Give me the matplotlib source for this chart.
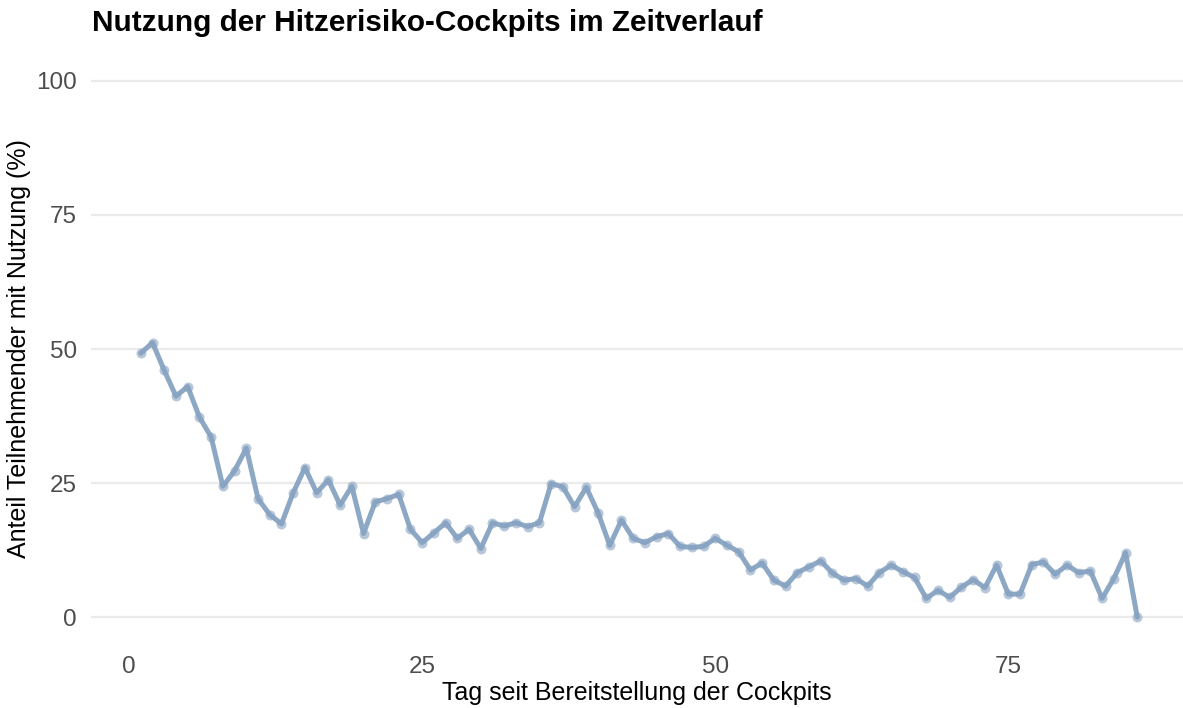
import numpy as np
import matplotlib
matplotlib.use('Agg')
import matplotlib.pyplot as plt

plt.rcParams['font.family'] = ['Liberation Sans', 'DejaVu Sans']

# days since cockpit release and share of participants using it (%)
days = list(range(1, 87))
usage = [49.2, 51.2, 46.0, 41.2, 43.0, 37.3, 33.6, 24.4, 27.3, 31.5,
         22.1, 19.1, 17.4, 23.2, 27.9, 23.2, 25.6, 20.9, 24.4, 15.6,
         21.5, 22.1, 22.9, 16.4, 13.9, 15.7, 17.6, 14.7, 16.4, 12.8,
         17.6, 17.0, 17.6, 16.9, 17.6, 24.9, 24.3, 20.6, 24.2, 19.5,
         13.4, 18.1, 14.7, 13.9, 15.0, 15.6, 13.2, 13.0, 13.2, 14.7,
         13.4, 12.2, 8.8, 10.1, 6.9, 5.8, 8.3, 9.4, 10.5, 8.2,
         6.9, 7.2, 5.8, 8.3, 9.7, 8.5, 7.4, 3.5, 5.0, 3.7,
         5.6, 7.0, 5.5, 9.7, 4.3, 4.3, 9.8, 10.3, 8.0, 9.7,
         8.3, 8.6, 3.5, 7.2, 12.0, 0.0]
yticks = [0, 25, 50, 75, 100]
xticks = [0, 25, 50, 75]

fig = plt.figure(figsize=(11.83, 7.08), dpi=100)
ax = fig.add_axes([0.0769, 0.0904, 0.9231, 0.8333])

color = '#87A3C1'
ax.scatter(days, usage, s=52, color=color, alpha=0.6, linewidths=0, zorder=3)
ax.plot(days, usage, color=color, linewidth=3.6, alpha=0.95, zorder=4,
        solid_capstyle='round', solid_joinstyle='round')

ax.set_xlim(-3.25, 89.9)
ax.set_ylim(-5, 105)
ax.set_xticks(xticks)
ax.set_yticks(yticks)
ax.tick_params(length=0, labelsize=17.5, labelcolor='#4D4D4D', pad=9)
ax.tick_params(axis='y', pad=10)

#only horizontal grid
ax.grid(axis='y', color='#EBEBEB', linewidth=1.6)
ax.grid(axis='x', visible=False)
ax.set_axisbelow(True)
for s in ax.spines.values():
    s.set_visible(False)

ax.set_xlabel('Tag seit Bereitstellung der Cockpits', fontsize=18, color='black', labelpad=2)
ax.set_ylabel('Anteil Teilnehmender mit Nutzung (%)', fontsize=18, color='black', labelpad=4)
fig.text(0.078, 0.967, 'Nutzung der Hitzerisiko-Cockpits im Zeitverlauf',
         fontsize=21.4, fontweight='bold', ha='left', va='center')

fig.savefig('out.png', dpi=100)
